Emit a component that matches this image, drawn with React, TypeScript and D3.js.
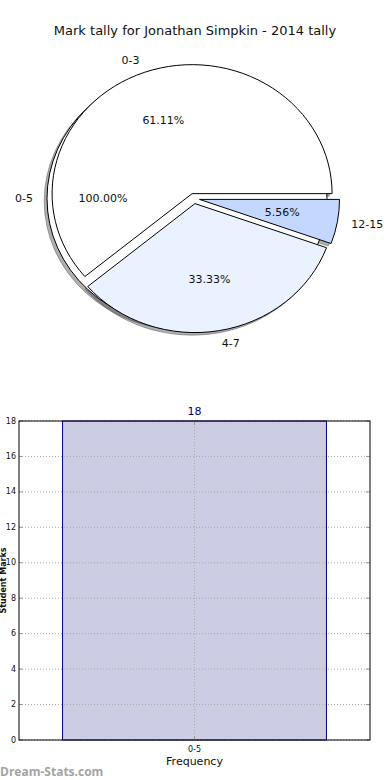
import { arc, pie, scaleBand, scaleLinear, range } from 'd3'

const TITLE = 'Mark tally for Jonathan Simpkin - 2014 tally'

// outer pie: one slice for the full band
const OUTER_LABELS = ['0-5']
const OUTER_VALUES = [18]
const OUTER_COLORS = ['#ffffff']

// inner pie
const PIE_LABELS = ['0-3', '4-7', '12-15']
const PIE_VALUES = [11, 6, 1]
const PIE_COLORS = ['#ffffff', '#eaf1ff', '#c4d8ff']

// bar chart
const BAR_CATEGORIES = ['0-5']
const BAR_VALUES = [18]
const Y_TICKS = range(0, 19, 2)

type Slice = { label: string; value: number; color: string; explode: number }

function buildSlices(labels: string[], values: number[], colors: string[], explode: number): any[] {
  const rows: Slice[] = labels.map((l, i) => ({ label: l, value: values[i], color: colors[i], explode }))
  // matplotlib style: start at 3 o'clock, go counterclockwise
  return pie<Slice>()
    .sort(null)
    .value((d) => d.value)
    .startAngle(Math.PI / 2)
    .endAngle(Math.PI / 2 - 2 * Math.PI)(rows)
}

export default function App(): JSX.Element {
  const width = 390
  const height = 780

  // pie geometry (ellipse because the axes were not square)
  const cx = 194
  const cy = 198.5
  const rx = 140
  const ry = 129

  const outer = buildSlices(OUTER_LABELS, OUTER_VALUES, OUTER_COLORS, 0.05)
  const inner = buildSlices(PIE_LABELS, PIE_VALUES, PIE_COLORS, 0.04)
  const allSlices = [...outer, ...inner]
  const arcGen = arc<any>().innerRadius(0).outerRadius(rx)

  const center = (s: any) => {
    const mid = (s.startAngle + s.endAngle) / 2
    return {
      mid,
      x: cx + s.data.explode * rx * Math.sin(mid),
      y: cy - s.data.explode * ry * Math.cos(mid),
    }
  }

  const pieTotal = (s: any) => (outer.includes(s) ? OUTER_VALUES : PIE_VALUES).reduce((a, b) => a + b, 0)

  // bar chart geometry
  const margin = { top: 421, left: 19, right: 20, bottom: 40 }
  const innerW = width - margin.left - margin.right
  const innerH = 740 - margin.top

  const xScale = scaleBand().domain(BAR_CATEGORIES).range([0, innerW]).paddingInner(0).paddingOuter(0.165)
  const yScale = scaleLinear().domain([0, 18]).range([innerH, 0])

  return (
    <svg
      width={width}
      height={height}
      style={{ position: 'absolute', left: 0, top: 0, fontFamily: 'DejaVu Sans' }}
    >
      <rect width={width} height={height} fill='#fff' />
      <text x={195} y={30} textAnchor='middle' dominantBaseline='central' fontSize={13} fill='#111'>
        {TITLE}
      </text>

      {/* Shadows */}
      {allSlices.map((s, i) => {
        const c = center(s)
        return (
          <path
            key={'sh' + i}
            d={arcGen(s) as string}
            transform={`translate(${c.x - 0.02 * rx}, ${c.y + 0.02 * ry}) scale(1, ${ry / rx})`}
            fill='rgba(77,77,77,0.45)'
            stroke='rgba(77,77,77,0.45)'
            vectorEffect='non-scaling-stroke'
          />
        )
      })}

      {/* Wedges */}
      {allSlices.map((s, i) => {
        const c = center(s)
        return (
          <path
            key={'w' + i}
            d={arcGen(s) as string}
            transform={`translate(${c.x}, ${c.y}) scale(1, ${ry / rx})`}
            fill={s.data.color}
            stroke='#000'
            strokeWidth={1}
            strokeLinejoin='miter'
            vectorEffect='non-scaling-stroke'
          />
        )
      })}

      {/* Labels */}
      {allSlices.map((s, i) => {
        const c = center(s)
        const sx = Math.sin(c.mid)
        const cyv = Math.cos(c.mid)
        const pct = ((s.data.value / pieTotal(s)) * 100).toFixed(2) + '%'
        return (
          <g key={'l' + i} fontSize={11} fill='#111'>
            <text
              x={c.x + 1.1 * rx * sx}
              y={c.y - 1.1 * ry * cyv}
              textAnchor={sx < -1e-6 ? 'end' : 'start'}
              dominantBaseline='central'
            >
              {s.data.label}
            </text>
            <text
              x={c.x + 0.6 * rx * sx}
              y={c.y - 0.6 * ry * cyv}
              textAnchor='middle'
              dominantBaseline='central'
            >
              {pct}
            </text>
          </g>
        )
      })}

      {/* Bar chart */}
      <g transform={`translate(${margin.left}, ${margin.top})`}>
        {BAR_CATEGORIES.map((d, i) => (
          <g key={'b' + i}>
            <rect
              x={xScale(d)!}
              y={yScale(BAR_VALUES[i])}
              width={xScale.bandwidth()}
              height={innerH - yScale(BAR_VALUES[i])}
              fill='#ccccE4'
              stroke='#00008b'
              strokeWidth={1}
            />
            <text
              x={xScale(d)! + xScale.bandwidth() / 2}
              y={yScale(BAR_VALUES[i]) - 9.5}
              textAnchor='middle'
              dominantBaseline='central'
              fontSize={11}
              fill='#00007a'
            >
              {BAR_VALUES[i]}
            </text>
          </g>
        ))}

        {/* grid */}
        {Y_TICKS.map((t) => (
          <g key={'y' + t} transform={`translate(0, ${yScale(t)})`}>
            <line x2={innerW} stroke='#aaa' strokeDasharray='1,2' />
            <line x2={4} stroke='#999' />
            <line x1={innerW - 4} x2={innerW} stroke='#999' />
            <text x={-3} dominantBaseline='central' textAnchor='end' fontSize={8} fill='#111'>
              {t}
            </text>
          </g>
        ))}
        {BAR_CATEGORIES.map((d) => {
          const x = xScale(d)! + xScale.bandwidth() / 2
          return (
            <g key={'x' + d} transform={`translate(${x}, 0)`}>
              <line y2={innerH} stroke='#aaa' strokeDasharray='1,2' />
              <line y2={4} stroke='#999' />
              <line y1={innerH - 4} y2={innerH} stroke='#999' />
              <text y={innerH + 9} textAnchor='middle' dominantBaseline='central' fontSize={8} fill='#111'>
                {d}
              </text>
            </g>
          )
        })}

        <rect width={innerW} height={innerH} fill='none' stroke='#000' />

        <text
          x={innerW / 2}
          y={innerH + 21}
          textAnchor='middle'
          dominantBaseline='central'
          fontSize={11}
          fill='#111'
        >
          Frequency
        </text>
        <text
          transform={`translate(${-15.5}, ${innerH / 2}) rotate(-90)`}
          textAnchor='middle'
          dominantBaseline='central'
          fontSize={8}
          fontWeight='bold'
          fill='#111'
        >
          Student Marks
        </text>
      </g>

      <text x={0} y={771} dominantBaseline='central' fontSize={12} fontWeight='bold' fontFamily='Open Sans' fill='#a3a3a3'>
        Dream-Stats.com
      </text>
    </svg>
  )
}
